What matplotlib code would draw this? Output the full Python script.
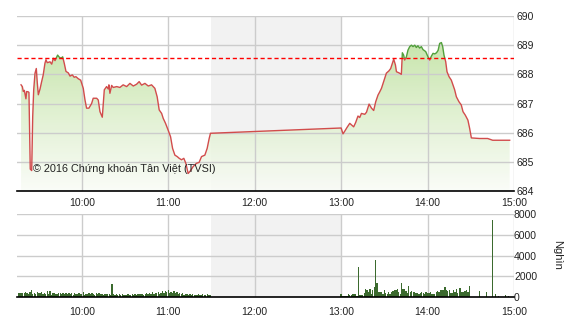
import numpy as np
import matplotlib.pyplot as plt
from matplotlib.patches import Rectangle
from matplotlib.colors import LinearSegmentedColormap

plt.rcParams['font.family'] = ['Liberation Sans', 'DejaVu Sans']

# index, time in minutes after 09:00
price_t = [17.8, 18.7, 19.4, 20.1, 21.2, 21.7, 22.8, 23.3, 24.2, 25.2,
           25.9, 26.6, 27.5, 28.4, 29.1, 29.8, 31.0, 32.1, 33.2, 34.4,
           35.1, 36.0, 37.9, 39.1, 40.2, 41.4, 43.2, 44.1, 45.5, 46.7,
           47.8, 49.0, 50.6, 51.8, 53.4, 54.7, 55.9, 57.5, 59.2, 61.0,
           62.2, 63.3, 64.9, 66.8, 67.9, 70.3, 71.4, 72.6, 74.2, 75.6,
           77.2, 78.3, 78.8, 79.5, 80.7, 81.8, 84.2, 86.4, 88.7, 91.1,
           93.4, 95.7, 98.0, 99.8, 101.5, 103.8, 106.1, 108.4, 110.7, 112.3,
           113.7, 115.4, 116.5, 118.1, 119.9, 121.6, 123.0, 124.6, 126.2, 127.6,
           129.2, 130.8, 132.2, 133.8, 135.5, 137.3, 139.6, 141.4, 143.1, 145.4,
           147.0, 148.4, 149.3, 150.0,
           240.0, 241.3, 242.5, 244.1, 246.0, 247.3, 248.7, 250.1, 251.7, 252.9,
           254.1, 256.4, 257.6, 259.4, 261.1, 262.6, 264.0, 265.6, 266.8, 268.0,
           269.1, 270.2, 271.4, 273.2, 274.4, 275.6, 276.5, 277.7, 278.4, 280.2,
           281.8, 282.5, 283.4, 284.1, 285.3, 286.4, 287.6, 288.8, 289.9, 291.1,
           292.2, 293.3, 294.5, 295.7, 296.8, 298.7, 300.3, 301.5, 302.6, 303.8,
           305.0, 306.2, 307.3, 308.4, 309.6, 310.5, 311.4, 312.6, 313.5, 314.9,
           316.5, 317.6, 318.8, 320.0, 321.8, 323.4, 324.6, 326.2, 328.0, 329.2,
           330.4, 336.1, 341.7, 345.2, 357.0]
price_v = [687.64, 687.58, 687.41, 687.45, 687.16, 687.41, 687.40, 687.38, 684.75, 684.70,
           686.55, 687.47, 688.04, 688.20, 687.70, 687.30, 687.50, 687.75, 687.98, 688.38,
           688.50, 688.40, 688.43, 688.35, 688.55, 688.47, 688.66, 688.60, 688.55, 688.60,
           688.38, 688.10, 688.05, 687.94, 687.98, 687.90, 687.92, 687.85, 687.80, 687.52,
           687.12, 686.84, 686.84, 687.00, 687.18, 687.18, 687.12, 686.72, 686.53, 687.47,
           687.58, 687.50, 687.64, 687.35, 687.62, 687.55, 687.58, 687.55, 687.64, 687.58,
           687.69, 687.60, 687.66, 687.75, 687.63, 687.69, 687.60, 687.64, 687.52, 687.23,
           686.78, 686.66, 686.49, 686.32, 686.09, 685.86, 685.46, 685.23, 685.18, 685.12,
           685.07, 685.12, 684.95, 684.60, 684.70, 684.84, 684.95, 684.98, 685.18, 685.23,
           685.46, 685.80, 685.98, 685.98,
           686.16, 685.96, 686.05, 686.18, 686.32, 686.26, 686.20, 686.35, 686.57, 686.52,
           686.66, 686.63, 686.70, 686.98, 686.84, 686.76, 687.06, 687.29, 687.40, 687.52,
           687.69, 687.86, 688.04, 688.12, 688.20, 688.38, 688.52, 688.32, 688.09, 688.05,
           688.00, 688.74, 688.66, 688.49, 688.60, 688.83, 688.95, 689.00, 688.95, 689.00,
           688.92, 688.98, 688.90, 688.95, 688.85, 688.78, 688.60, 688.49, 688.62, 688.72,
           688.70, 688.74, 688.82, 689.06, 689.09, 688.95, 688.66, 688.43, 688.09, 687.92,
           687.80, 687.64, 687.47, 687.23, 687.06, 686.95, 686.72, 686.60, 686.43, 686.15,
           685.82, 685.80, 685.80, 685.74, 685.74]
ref_price = 688.55

# volume (thousand shares), one bar per minute
vol_am_start = 16      # 09:16
vol_am = [380, 400, 350, 420, 380, 450, 360, 300, 520, 640,
          300, 420, 250, 480, 380, 350, 500, 300, 420, 260,
          550, 300, 600, 240, 380, 350, 280, 300, 420, 380,
          260, 400, 300, 350, 250, 420, 300, 350, 200, 380,
          250, 300, 360, 260, 300, 450, 220, 300, 280, 350,
          260, 400, 300, 220, 350, 280, 420, 260, 300, 240,
          320, 260, 300, 250, 200, 1300, 250, 220, 300, 180,
          250, 200, 260, 180, 230, 200, 260, 220, 180, 250,
          230, 280, 200, 260, 250, 300, 280, 240, 300, 350,
          260, 380, 300, 450, 280, 400, 350, 500, 300, 420,
          550, 400, 600, 480, 650, 420, 500, 380, 600, 350,
          450, 300, 420, 250, 350, 200, 300, 280, 220, 250,
          180, 250, 200, 220, 180, 260, 200, 230, 250, 200,
          220, 250, 200, 230]
vol_pm_start = 240     # 13:00
vol_pm = [260, 100, 100, 90, 60, 260, 160, 200, 260, 250,
          260, 100, 2880, 220, 160, 160, 380, 740, 640, 480,
          800, 320, 700, 960, 3600, 1340, 450, 450, 450, 320,
          700, 380, 290, 450, 260, 510, 540, 640, 640, 740,
          450, 300, 1310, 800, 740, 610, 420, 1020, 450, 540,
          510, 480, 380, 420, 290, 380, 450, 420, 320, 450,
          380, 420, 450, 320, 320, 320, 450, 580, 510, 670,
          700, 700, 960, 640, 580, 700, 380, 380, 640, 450,
          770, 380, 860, 900, 450, 450, 580, 700, 480, 1020]
vol_late_t = [336, 341, 345, 347, 349, 354, 356]
vol_late_v = [580, 480, 7400, 260, 100, 220, 130]

hour_ticks = [60, 120, 180, 240, 300, 360]
hour_labels = ['10:00', '11:00', '12:00', '13:00', '14:00', '15:00']
price_ticks = [684, 685, 686, 687, 688, 689, 690]
vol_ticks = [0, 2000, 4000, 6000, 8000]

fig = plt.figure(figsize=(5.7, 3.2), dpi=100)
ax1 = fig.add_axes([17/570, 1 - 191/320, 497/570, 175/320])
ax2 = fig.add_axes([17/570, 1 - 297/320, 497/570, 83/320])

for ax, lo, hi, yt in [(ax1, 684, 690, price_ticks), (ax2, 0, 8000, vol_ticks)]:
    ax.set_xlim(15, 360)
    ax.set_ylim(lo, hi)
    ax.axvspan(150, 240, color='#f2f2f2', lw=0, zorder=0)
    ax.set_xticks(hour_ticks)
    ax.set_xticklabels(hour_labels)
    ax.set_yticks(yt)
    ax.yaxis.tick_right()
    ax.grid(True, color='#cccccc', lw=1)
    ax.set_axisbelow('line')
    for s in ['top', 'left', 'right']:
        ax.spines[s].set_visible(False)
    ax.spines['bottom'].set_color('black')
    ax.spines['bottom'].set_linewidth(1.2)
    ax.spines['bottom'].set_zorder(5)
    ax.tick_params(length=0, labelsize=7.5, colors='#222222')
    ax.set_facecolor('none')

ax1.tick_params(axis='x', pad=5)
ax1.tick_params(axis='y', pad=2)
ax2.tick_params(axis='x', pad=7)
ax2.tick_params(axis='y', pad=0)

# price area with vertical gradient
t = np.array(price_t)
p = np.array(price_v)
poly = ax1.fill_between(t, p, 684, color='none', lw=0)
cmap = LinearSegmentedColormap.from_list('g', [(0.98, 0.99, 0.97, 0.85), (0.72, 0.87, 0.58, 0.9)])
grad = np.linspace(0, 1, 256).reshape(-1, 1)
img = ax1.imshow(grad, extent=[15, 360, 684, 690], origin='lower', aspect='auto',
                 cmap=cmap, zorder=1)
img.set_clip_path(poly.get_paths()[0], transform=ax1.transData)

up = ax1.plot(t, p, color='#52a03c', lw=1, zorder=3)[0]
dn = ax1.plot(t, p, color='#d24c4c', lw=1, zorder=3)[0]
up.set_clip_path(Rectangle((15, ref_price), 345, 2, transform=ax1.transData))
dn.set_clip_path(Rectangle((15, 683), 345, ref_price - 683, transform=ax1.transData))
ax1.axhline(ref_price, color='#ff0000', lw=1, ls=(0, (3, 2)), zorder=4)

ax1.text(0.032, 0.125, '\u00a9 2016 Ch\u1ee9ng kho\u00e1n T\u00e2n Vi\u1ec7t (TVSI)',
         transform=ax1.transAxes, fontsize=7.8, color='#222222', va='center', zorder=6)

# volume bars
am_x = np.arange(len(vol_am)) + vol_am_start
pm_x = np.arange(len(vol_pm)) + vol_pm_start
bar_c = '#3b6a2e'
ax2.bar(am_x, vol_am, width=0.9, color=bar_c, lw=0, zorder=3)
ax2.bar(pm_x, vol_pm, width=0.9, color=bar_c, lw=0, zorder=3)
ax2.bar(vol_late_t, vol_late_v, width=0.9, color=bar_c, lw=0, zorder=3)

fig.text(557/570, 1 - 255/320, 'Ngh\u00ecn', rotation=270, ha='center', va='center',
         fontsize=8, color='#222222')

fig.savefig('out.png', dpi=100)
